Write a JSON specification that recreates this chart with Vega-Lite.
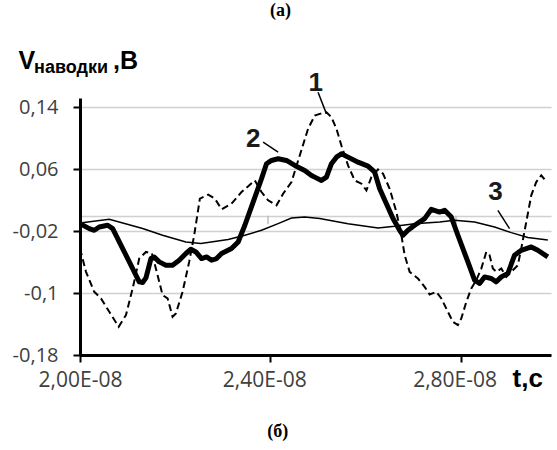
{
  "$schema": "https://vega.github.io/schema/vega-lite/v6.json",
  "width": 471,
  "height": 257,
  "autosize": {"type": "none"},
  "padding": {"left": 80, "top": 98, "right": 6, "bottom": 95},
  "background": "white",
  "title": {
    "text": "(а)",
    "font": "Liberation Serif",
    "fontSize": 18,
    "fontWeight": "bold",
    "color": "black",
    "anchor": "middle",
    "frame": "group",
    "dx": -35,
    "offset": 28
  },
  "config": {"view": {"stroke": null}},
  "datasets": {
    "curves": [
      {"series": "1", "t": 2.0e-8, "v": -0.0425},
      {"series": "1", "t": 2.0126e-8, "v": -0.0726},
      {"series": "1", "t": 2.03e-8, "v": -0.0984},
      {"series": "1", "t": 2.0441e-8, "v": -0.1069},
      {"series": "1", "t": 2.0615e-8, "v": -0.1242},
      {"series": "1", "t": 2.0813e-8, "v": -0.1435},
      {"series": "1", "t": 2.0966e-8, "v": -0.1284},
      {"series": "1", "t": 2.1107e-8, "v": -0.094},
      {"series": "1", "t": 2.1245e-8, "v": -0.0554},
      {"series": "1", "t": 2.1386e-8, "v": -0.0469},
      {"series": "1", "t": 2.1512e-8, "v": -0.0489},
      {"series": "1", "t": 2.1631e-8, "v": -0.0769},
      {"series": "1", "t": 2.1736e-8, "v": -0.1027},
      {"series": "1", "t": 2.1841e-8, "v": -0.1069},
      {"series": "1", "t": 2.1946e-8, "v": -0.1306},
      {"series": "1", "t": 2.2016e-8, "v": -0.1262},
      {"series": "1", "t": 2.2156e-8, "v": -0.0984},
      {"series": "1", "t": 2.2295e-8, "v": -0.0597},
      {"series": "1", "t": 2.24e-8, "v": -0.0253},
      {"series": "1", "t": 2.252e-8, "v": 0.022},
      {"series": "1", "t": 2.2694e-8, "v": 0.0271},
      {"series": "1", "t": 2.2835e-8, "v": 0.022},
      {"series": "1", "t": 2.2975e-8, "v": 0.0082},
      {"series": "1", "t": 2.3185e-8, "v": 0.0155},
      {"series": "1", "t": 2.3395e-8, "v": 0.0305},
      {"series": "1", "t": 2.3675e-8, "v": 0.0455},
      {"series": "1", "t": 2.3815e-8, "v": 0.0305},
      {"series": "1", "t": 2.3954e-8, "v": 0.0198},
      {"series": "1", "t": 2.413e-8, "v": 0.0133},
      {"series": "1", "t": 2.4269e-8, "v": 0.0284},
      {"series": "1", "t": 2.4445e-8, "v": 0.0434},
      {"series": "1", "t": 2.4619e-8, "v": 0.0778},
      {"series": "1", "t": 2.4794e-8, "v": 0.1122},
      {"series": "1", "t": 2.4934e-8, "v": 0.1293},
      {"series": "1", "t": 2.5039e-8, "v": 0.1315},
      {"series": "1", "t": 2.518e-8, "v": 0.1336},
      {"series": "1", "t": 2.5285e-8, "v": 0.1271},
      {"series": "1", "t": 2.539e-8, "v": 0.1122},
      {"series": "1", "t": 2.5495e-8, "v": 0.0906},
      {"series": "1", "t": 2.5634e-8, "v": 0.0649},
      {"series": "1", "t": 2.5774e-8, "v": 0.0455},
      {"series": "1", "t": 2.5915e-8, "v": 0.0413},
      {"series": "1", "t": 2.602e-8, "v": 0.0327},
      {"series": "1", "t": 2.6125e-8, "v": 0.0498},
      {"series": "1", "t": 2.6264e-8, "v": 0.0597},
      {"series": "1", "t": 2.6369e-8, "v": 0.0542},
      {"series": "1", "t": 2.6509e-8, "v": 0.0348},
      {"series": "1", "t": 2.665e-8, "v": 0.0047},
      {"series": "1", "t": 2.6755e-8, "v": -0.0253},
      {"series": "1", "t": 2.6824e-8, "v": -0.0511},
      {"series": "1", "t": 2.6929e-8, "v": -0.0726},
      {"series": "1", "t": 2.7103e-8, "v": -0.0811},
      {"series": "1", "t": 2.7244e-8, "v": -0.092},
      {"series": "1", "t": 2.7349e-8, "v": -0.1018},
      {"series": "1", "t": 2.749e-8, "v": -0.0984},
      {"series": "1", "t": 2.7595e-8, "v": -0.1069},
      {"series": "1", "t": 2.7733e-8, "v": -0.1242},
      {"series": "1", "t": 2.7838e-8, "v": -0.1371},
      {"series": "1", "t": 2.7943e-8, "v": -0.1413},
      {"series": "1", "t": 2.8015e-8, "v": -0.1327},
      {"series": "1", "t": 2.812e-8, "v": -0.1113},
      {"series": "1", "t": 2.8225e-8, "v": -0.094},
      {"series": "1", "t": 2.833e-8, "v": -0.0833},
      {"series": "1", "t": 2.8435e-8, "v": -0.0683},
      {"series": "1", "t": 2.854e-8, "v": -0.0469},
      {"series": "1", "t": 2.8609e-8, "v": -0.0511},
      {"series": "1", "t": 2.8678e-8, "v": -0.0683},
      {"series": "1", "t": 2.875e-8, "v": -0.0726},
      {"series": "1", "t": 2.8855e-8, "v": -0.0683},
      {"series": "1", "t": 2.896e-8, "v": -0.0791},
      {"series": "1", "t": 2.9098e-8, "v": -0.0705},
      {"series": "1", "t": 2.9203e-8, "v": -0.064},
      {"series": "1", "t": 2.9275e-8, "v": -0.0425},
      {"series": "1", "t": 2.938e-8, "v": -0.0082},
      {"series": "1", "t": 2.9485e-8, "v": 0.0262},
      {"series": "1", "t": 2.959e-8, "v": 0.0434},
      {"series": "1", "t": 2.9695e-8, "v": 0.052},
      {"series": "1", "t": 2.98e-8, "v": 0.0443},

      {"series": "2", "t": 2.0e-8, "v": -0.0103},
      {"series": "2", "t": 2.0195e-8, "v": -0.0167},
      {"series": "2", "t": 2.03e-8, "v": -0.0189},
      {"series": "2", "t": 2.0405e-8, "v": -0.0146},
      {"series": "2", "t": 2.0582e-8, "v": -0.0124},
      {"series": "2", "t": 2.0687e-8, "v": -0.0167},
      {"series": "2", "t": 2.0897e-8, "v": -0.0425},
      {"series": "2", "t": 2.1107e-8, "v": -0.0683},
      {"series": "2", "t": 2.1245e-8, "v": -0.0855},
      {"series": "2", "t": 2.1317e-8, "v": -0.0863},
      {"series": "2", "t": 2.1386e-8, "v": -0.0804},
      {"series": "2", "t": 2.1491e-8, "v": -0.0554},
      {"series": "2", "t": 2.156e-8, "v": -0.0533},
      {"series": "2", "t": 2.1665e-8, "v": -0.0597},
      {"series": "2", "t": 2.1806e-8, "v": -0.064},
      {"series": "2", "t": 2.1946e-8, "v": -0.064},
      {"series": "2", "t": 2.2085e-8, "v": -0.0576},
      {"series": "2", "t": 2.2226e-8, "v": -0.0489},
      {"series": "2", "t": 2.2331e-8, "v": -0.0434},
      {"series": "2", "t": 2.2436e-8, "v": -0.0469},
      {"series": "2", "t": 2.2555e-8, "v": -0.0554},
      {"series": "2", "t": 2.266e-8, "v": -0.0533},
      {"series": "2", "t": 2.2765e-8, "v": -0.0576},
      {"series": "2", "t": 2.287e-8, "v": -0.0554},
      {"series": "2", "t": 2.2975e-8, "v": -0.0489},
      {"series": "2", "t": 2.3185e-8, "v": -0.0425},
      {"series": "2", "t": 2.3324e-8, "v": -0.034},
      {"series": "2", "t": 2.3465e-8, "v": -0.0124},
      {"series": "2", "t": 2.3639e-8, "v": 0.0176},
      {"series": "2", "t": 2.3815e-8, "v": 0.0477},
      {"series": "2", "t": 2.392e-8, "v": 0.0671},
      {"series": "2", "t": 2.4025e-8, "v": 0.0713},
      {"series": "2", "t": 2.4164e-8, "v": 0.0735},
      {"series": "2", "t": 2.434e-8, "v": 0.0713},
      {"series": "2", "t": 2.4514e-8, "v": 0.0649},
      {"series": "2", "t": 2.4724e-8, "v": 0.0584},
      {"series": "2", "t": 2.4865e-8, "v": 0.052},
      {"series": "2", "t": 2.4934e-8, "v": 0.0498},
      {"series": "2", "t": 2.5075e-8, "v": 0.0455},
      {"series": "2", "t": 2.518e-8, "v": 0.0498},
      {"series": "2", "t": 2.5285e-8, "v": 0.0671},
      {"series": "2", "t": 2.539e-8, "v": 0.0756},
      {"series": "2", "t": 2.5495e-8, "v": 0.08},
      {"series": "2", "t": 2.5634e-8, "v": 0.0756},
      {"series": "2", "t": 2.5844e-8, "v": 0.0691},
      {"series": "2", "t": 2.6054e-8, "v": 0.064},
      {"series": "2", "t": 2.6194e-8, "v": 0.0562},
      {"series": "2", "t": 2.6299e-8, "v": 0.0348},
      {"series": "2", "t": 2.644e-8, "v": 0.0155},
      {"series": "2", "t": 2.6579e-8, "v": -0.0038},
      {"series": "2", "t": 2.6719e-8, "v": -0.0189},
      {"series": "2", "t": 2.6789e-8, "v": -0.0253},
      {"series": "2", "t": 2.6893e-8, "v": -0.0189},
      {"series": "2", "t": 2.7034e-8, "v": -0.0124},
      {"series": "2", "t": 2.7244e-8, "v": -0.0038},
      {"series": "2", "t": 2.7385e-8, "v": 0.0082},
      {"series": "2", "t": 2.7559e-8, "v": 0.0047},
      {"series": "2", "t": 2.7664e-8, "v": 0.0069},
      {"series": "2", "t": 2.7805e-8, "v": -0.0018},
      {"series": "2", "t": 2.7943e-8, "v": -0.0253},
      {"series": "2", "t": 2.8153e-8, "v": -0.0597},
      {"series": "2", "t": 2.8294e-8, "v": -0.0833},
      {"series": "2", "t": 2.8399e-8, "v": -0.0876},
      {"series": "2", "t": 2.8504e-8, "v": -0.0791},
      {"series": "2", "t": 2.8645e-8, "v": -0.0811},
      {"series": "2", "t": 2.875e-8, "v": -0.0855},
      {"series": "2", "t": 2.8855e-8, "v": -0.0791},
      {"series": "2", "t": 2.8993e-8, "v": -0.0747},
      {"series": "2", "t": 2.9134e-8, "v": -0.0511},
      {"series": "2", "t": 2.9275e-8, "v": -0.0447},
      {"series": "2", "t": 2.9485e-8, "v": -0.0404},
      {"series": "2", "t": 2.9623e-8, "v": -0.0447},
      {"series": "2", "t": 2.9833e-8, "v": -0.0533},

      {"series": "3", "t": 2.0e-8, "v": -0.0095},
      {"series": "3", "t": 2.0615e-8, "v": -0.0047},
      {"series": "3", "t": 2.1317e-8, "v": -0.0167},
      {"series": "3", "t": 2.1736e-8, "v": -0.0253},
      {"series": "3", "t": 2.2226e-8, "v": -0.034},
      {"series": "3", "t": 2.2541e-8, "v": -0.036},
      {"series": "3", "t": 2.3114e-8, "v": -0.0309},
      {"series": "3", "t": 2.3465e-8, "v": -0.0253},
      {"series": "3", "t": 2.3815e-8, "v": -0.0189},
      {"series": "3", "t": 2.4164e-8, "v": -0.0103},
      {"series": "3", "t": 2.4445e-8, "v": -0.003},
      {"series": "3", "t": 2.4724e-8, "v": -0.0018},
      {"series": "3", "t": 2.5039e-8, "v": -0.0038},
      {"series": "3", "t": 2.5634e-8, "v": -0.0103},
      {"series": "3", "t": 2.6264e-8, "v": -0.0159},
      {"series": "3", "t": 2.6614e-8, "v": -0.0137},
      {"series": "3", "t": 2.7034e-8, "v": -0.0103},
      {"series": "3", "t": 2.7559e-8, "v": -0.0082},
      {"series": "3", "t": 2.7874e-8, "v": -0.006},
      {"series": "3", "t": 2.8294e-8, "v": -0.0082},
      {"series": "3", "t": 2.8714e-8, "v": -0.0146},
      {"series": "3", "t": 2.9065e-8, "v": -0.0219},
      {"series": "3", "t": 2.9413e-8, "v": -0.0283},
      {"series": "3", "t": 2.9833e-8, "v": -0.0314}
    ],
    "curveLabels": [
      {"label": "1", "t": 2.4955e-8, "v": 0.1718},
      {"label": "2", "t": 2.3643e-8, "v": 0.099},
      {"label": "3", "t": 2.8735e-8, "v": 0.0307}
    ],
    "leaders": [
      {"label": "1", "t": 2.5004e-8, "v": 0.1593, "t2": 2.518e-8, "v2": 0.1315},
      {"label": "2", "t": 2.3849e-8, "v": 0.0949, "t2": 2.4164e-8, "v2": 0.082},
      {"label": "3", "t": 2.8783e-8, "v": 0.0069, "t2": 2.9029e-8, "v2": -0.0167}
    ],
    "zeroAxisTicks": [
      {"t": 2.3951e-8, "v": 0, "t2": 2.3951e-8, "v2": -0.011},
      {"t": 2.7902e-8, "v": 0, "t2": 2.7902e-8, "v2": -0.011}
    ]
  },
  "encoding": {
    "x": {
      "field": "t",
      "type": "quantitative",
      "scale": {"domain": [2.0e-8, 2.99e-8], "nice": false, "zero": false},
      "axis": {
        "values": [2.0e-8, 2.4e-8, 2.8e-8],
        "labelExpr": "replace(format(datum.value * 1e8, '.2f'), '.', ',') + 'E-08'",
        "labelOffset": {"condition": {"test": "datum.value > 2.2e-8", "value": -6}, "value": 0},
        "grid": false,
        "domainColor": "black",
        "domainWidth": 3,
        "tickColor": "black",
        "tickWidth": 2,
        "tickSize": 7,
        "labelFont": "Open Sans",
        "labelFontSize": 21,
        "labelColor": "#404040",
        "labelPadding": 7,
        "labelFlush": false,
        "labelOverlap": false,
        "title": "t,c",
        "titleFont": "Liberation Sans",
        "titleFontSize": 26,
        "titleFontWeight": "bold",
        "titleColor": "black",
        "titleAngle": 0,
        "titleAlign": "left",
        "titleBaseline": "alphabetic",
        "titleX": 432,
        "titleY": 31
      }
    },
    "y": {
      "field": "v",
      "type": "quantitative",
      "scale": {"domain": [-0.18, 0.152], "nice": false, "zero": false},
      "axis": {
        "values": [-0.18, -0.1, -0.02, 0, 0.06, 0.14],
        "labelExpr": "datum.value == 0 ? '' : replace(toString(round(datum.value * 100) / 100), '.', ',')",
        "grid": true,
        "gridColor": "#d0d0d0",
        "gridWidth": 1.5,
        "domainColor": "black",
        "domainWidth": 3,
        "tickColor": "black",
        "tickWidth": 2,
        "tickSize": 7,
        "tickOpacity": {"condition": {"test": "datum.value == 0", "value": 0}, "value": 1},
        "labelFont": "Open Sans",
        "labelFontSize": 20,
        "labelColor": "#404040",
        "labelPadding": 15,
        "labelOverlap": false,
        "title": "V",
        "titleFont": "Liberation Sans",
        "titleFontSize": 25,
        "titleFontWeight": "bold",
        "titleColor": "black",
        "titleAngle": 0,
        "titleAlign": "left",
        "titleBaseline": "alphabetic",
        "titleX": -62,
        "titleY": -30
      }
    }
  },
  "layer": [
    {
      "data": {"name": "zeroAxisTicks"},
      "mark": {"type": "rule", "color": "#bdbdbd", "strokeWidth": 1.5},
      "encoding": {
        "x2": {"field": "t2"},
        "y2": {"field": "v2"}
      }
    },
    {
      "data": {"name": "curves"},
      "transform": [{"filter": "datum.series == '1'"}],
      "mark": {"type": "line", "color": "black", "strokeWidth": 2, "strokeDash": [7, 4]}
    },
    {
      "data": {"name": "curves"},
      "transform": [{"filter": "datum.series == '3'"}],
      "mark": {"type": "line", "color": "black", "strokeWidth": 1.5}
    },
    {
      "data": {"name": "curves"},
      "transform": [{"filter": "datum.series == '2'"}],
      "mark": {"type": "line", "color": "black", "strokeWidth": 5, "strokeJoin": "round"}
    },
    {
      "data": {"name": "leaders"},
      "mark": {"type": "rule", "color": "black", "strokeWidth": 1.5},
      "encoding": {
        "x2": {"field": "t2"},
        "y2": {"field": "v2"}
      }
    },
    {
      "data": {"name": "curveLabels"},
      "mark": {
        "type": "text",
        "font": "Liberation Sans",
        "fontSize": 26,
        "fontWeight": "bold",
        "color": "#1a1a1a",
        "align": "center",
        "baseline": "middle"
      },
      "encoding": {
        "text": {"field": "label"}
      }
    },
    {
      "data": {"values": [{"t": 1.9034e-8, "v": 0.1847}]},
      "mark": {
        "type": "text",
        "text": "наводки",
        "font": "Liberation Sans",
        "fontSize": 18,
        "fontWeight": "bold",
        "color": "black",
        "align": "left",
        "baseline": "alphabetic"
      }
    },
    {
      "data": {"values": [{"t": 2.0693e-8, "v": 0.1899}]},
      "mark": {
        "type": "text",
        "text": ",В",
        "font": "Liberation Sans",
        "fontSize": 25,
        "fontWeight": "bold",
        "color": "black",
        "align": "left",
        "baseline": "alphabetic"
      }
    },
    {
      "data": {"values": [{"t": 2.4157e-8, "v": -0.2856}]},
      "mark": {
        "type": "text",
        "text": "(б)",
        "font": "Liberation Serif",
        "fontSize": 18,
        "fontWeight": "bold",
        "color": "black",
        "align": "center",
        "baseline": "alphabetic"
      }
    }
  ]
}
